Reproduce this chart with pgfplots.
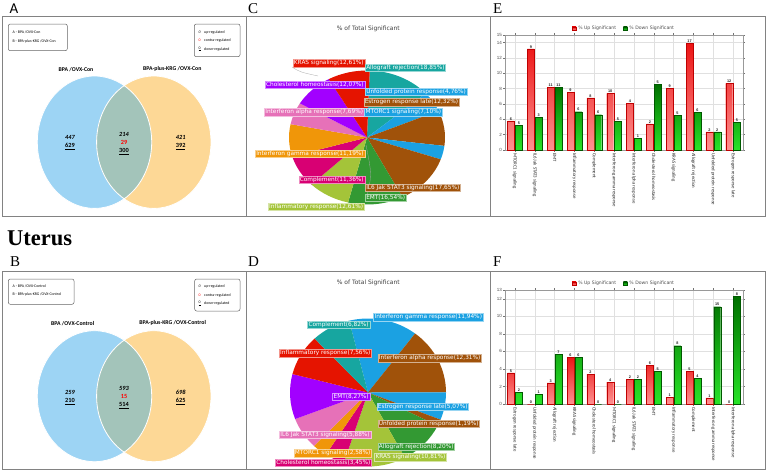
\documentclass[border=0pt]{standalone}
\usepackage{fontspec}
\setmainfont{Liberation Serif}
\newfontfamily\carlito{Carlito}
\newfontfamily\dejavu{DejaVu Sans}
\newfontfamily\libsans{Liberation Sans}
\usepackage{pgfplots}
\usepackage{pgfplotstable}
\pgfplotsset{compat=1.18}

\definecolor{pTeal}{RGB}{23,166,160}
\definecolor{pBlue}{RGB}{27,161,226}
\definecolor{pBrown}{RGB}{160,82,10}
\definecolor{pGreen}{RGB}{51,153,51}
\definecolor{pLime}{RGB}{164,196,57}
\definecolor{pMagenta}{RGB}{216,0,115}
\definecolor{pOrange}{RGB}{240,150,9}
\definecolor{pPink}{RGB}{230,113,184}
\definecolor{pPurple}{RGB}{162,0,255}
\definecolor{pRed}{RGB}{229,20,0}
\definecolor{vBlue}{RGB}{157,212,244}
\definecolor{vOrange}{RGB}{253,216,150}
\definecolor{vMid}{RGB}{163,196,186}
\definecolor{frameGray}{RGB}{130,130,130}
\definecolor{barRedTop}{RGB}{236,20,20}
\definecolor{barRedBot}{RGB}{255,145,145}
\definecolor{barGrnTop}{RGB}{0,112,0}
\definecolor{barGrnBot}{RGB}{40,228,40}

% pie slice values, clockwise
\pgfplotstableread{
value color
18.85 pTeal
7.10  pBlue
12.32 pBrown
4.76  pBlue
17.65 pBrown
16.54 pGreen
12.61 pLime
11.36 pMagenta
11.19 pOrange
7.69  pPink
12.07 pPurple
12.61 pRed
}\pieC
\pgfplotstableread{
value color
11.94 pBlue
12.31 pBrown
5.07  pBlue
1.19  pBrown
8.20  pGreen
10.81 pLime
3.45  pMagenta
2.58  pOrange
5.88  pPink
8.27  pPurple
7.56  pRed
6.82  pTeal
}\pieD

% #1 table, #2 cx, #3 cy, #4 rx, #5 ry, #6 start angle (clockwise from top)
\newcommand{\drawpie}[6]{%
  \pgfplotstablegetrowsof{#1}\pgfmathtruncatemacro\pienrows{\pgfplotsretval-1}%
  \gdef\pietotal{0}%
  \foreach \i in {0,...,\pienrows}{%
    \pgfplotstablegetelem{\i}{value}\of{#1}%
    \pgfmathsetmacro\pietmp{\pietotal+\pgfplotsretval}\xdef\pietotal{\pietmp}}%
  \gdef\piecum{0}%
  \foreach \i in {0,...,\pienrows}{%
    \pgfplotstablegetelem{\i}{value}\of{#1}\let\pieval\pgfplotsretval
    \pgfplotstablegetelem{\i}{color}\of{#1}\let\piecol\pgfplotsretval
    \pgfmathsetmacro\piea{90-(#6)-\piecum/\pietotal*360}%
    \pgfmathsetmacro\pieb{90-(#6)-(\piecum+\pieval)/\pietotal*360}%
    \fill[\piecol] (axis cs:#2,#3) -- ++(\piea:#4pt and #5pt)
      arc[start angle=\piea, end angle=\pieb, x radius=#4pt, y radius=#5pt] -- cycle;
    \pgfmathsetmacro\pietmp{\piecum+\pieval}\xdef\piecum{\pietmp}}%
}

\tikzset{
  pielab/.style={font=\dejavu\fontsize{5.8}{6}\selectfont, text=white, inner xsep=1pt, inner ysep=0.9pt, line width=0.5pt},
  frame/.style={draw=frameGray, line width=1pt},
  vlab/.style={font=\carlito\fontsize{3.9}{4.2}\selectfont, inner sep=0pt, anchor=west},
  vnum/.style={font=\carlito\bfseries\fontsize{6.3}{6.5}\selectfont, inner sep=0pt},
  vtitle/.style={font=\carlito\bfseries\fontsize{5.8}{6}\selectfont, inner sep=0pt},
  panel/.style={font=\fontsize{15}{15}\selectfont, inner sep=0pt, anchor=base west},
  leader/.style={draw=black!35, line width=0.3pt},
}
\newcommand{\plabR}[4]{\node[pielab, fill=#3, draw=#3!45!white, anchor=west] at (axis cs:#1,#2) {#4};}
\newcommand{\plabL}[4]{\node[pielab, fill=#3, draw=#3!45!white, anchor=east] at (axis cs:#1,#2) {#4};}

\pgfplotsset{barchart/.style={
  scale only axis, width=238pt,
  xmin=-0.5, xmax=11.5, ymin=0,
  ybar=0.8pt, bar width=7pt,
  xtick={0,...,11},
  x tick label style={rotate=-90, anchor=west, font=\carlito\fontsize{4.8}{5}\selectfont, text=black!85, inner sep=1pt},
  y tick label style={font=\libsans\fontsize{4.5}{5}\selectfont, text=black!70, inner sep=1pt},
  /pgf/number format/assume math mode=true,
  grid=major, grid style={draw=black!12, line width=0.4pt},
  axis line style={draw=black!40, line width=0.5pt},
  tick style={draw=black!55, line width=0.4pt},
  tick align=outside, major tick length=2pt,
  point meta=explicit symbolic,
  nodes near coords,
  nodes near coords style={font=\libsans\bfseries\fontsize{3.8}{4}\selectfont, text=black!85, inner sep=0.6pt, anchor=south},
  legend style={at={(0.5,1.005)}, anchor=south, draw=none, fill=none, legend columns=2,
    font=\dejavu\fontsize{4.6}{5}\selectfont, text=black!70,
    /tikz/every even column/.append style={column sep=5pt}, inner sep=1pt},
  legend image code/.code={\fill[##1] (0pt,-1.8pt) rectangle (4pt,1.8pt);},
  upbar/.style={draw=red!75!black, line width=0.3pt, top color=barRedTop, bottom color=barRedBot},
  downbar/.style={draw=green!35!black, line width=0.3pt, top color=barGrnTop, bottom color=barGrnBot},
}}

\begin{document}
\begin{tikzpicture}
\useasboundingbox (0,0) rectangle (767pt,472pt);
\begin{axis}[at={(0pt,0pt)}, anchor=south west, scale only axis, width=767pt, height=472pt,
  xmin=0, xmax=767, ymin=0, ymax=472, y dir=reverse, hide axis, clip=false]
% frames
\draw[frame] (axis cs:2,16) rectangle (axis cs:765,216);
\draw[frame] (axis cs:246,16) -- (axis cs:246,216);
\draw[frame] (axis cs:490,16) -- (axis cs:490,216);
\draw[frame] (axis cs:2,271) rectangle (axis cs:765,469.5);
\draw[frame] (axis cs:246,271) -- (axis cs:246,469.5);
\draw[frame] (axis cs:490,271) -- (axis cs:490,469.5);
% panel letters
\node[panel, font=\carlito\fontsize{15}{15}\selectfont] at (axis cs:9.5,13.5) {A};
\node[panel] at (axis cs:248,13.5) {C};
\node[panel] at (axis cs:493,13.5) {E};
\node[panel] at (axis cs:10,266.5) {B};
\node[panel] at (axis cs:248,266.5) {D};
\node[panel] at (axis cs:493,266.5) {F};
\node[inner sep=0pt, anchor=base west, font=\bfseries\fontsize{22.5}{22.5}\selectfont] at (axis cs:7,245) {Uterus};

% ---------- Venn shapes ----------
\pgfplotsextra{
  \fill[vBlue] (axis cs:94.5,142.2) ellipse[x radius=57.2pt, y radius=66.2pt];
  \fill[vOrange] (axis cs:153.8,142.2) ellipse[x radius=57.2pt, y radius=66.2pt];
  \begin{scope}
    \clip (axis cs:94.5,142.2) ellipse[x radius=57.2pt, y radius=66.2pt];
    \fill[vMid] (axis cs:153.8,142.2) ellipse[x radius=57.2pt, y radius=66.2pt];
  \end{scope}
  \draw[white, line width=0.8pt] (axis cs:94.5,142.2) ellipse[x radius=57.2pt, y radius=66.2pt];
  \draw[white, line width=0.8pt] (axis cs:153.8,142.2) ellipse[x radius=57.2pt, y radius=66.2pt];
  \fill[vBlue] (axis cs:94.5,396.2) ellipse[x radius=57.2pt, y radius=65.5pt];
  \fill[vOrange] (axis cs:153.8,396.2) ellipse[x radius=57.2pt, y radius=65.5pt];
  \begin{scope}
    \clip (axis cs:94.5,396.2) ellipse[x radius=57.2pt, y radius=65.5pt];
    \fill[vMid] (axis cs:153.8,396.2) ellipse[x radius=57.2pt, y radius=65.5pt];
  \end{scope}
  \draw[white, line width=0.8pt] (axis cs:94.5,396.2) ellipse[x radius=57.2pt, y radius=65.5pt];
  \draw[white, line width=0.8pt] (axis cs:153.8,396.2) ellipse[x radius=57.2pt, y radius=65.5pt];
}
\draw[black!60, rounded corners=2pt, line width=0.5pt] (axis cs:8.3,24) rectangle (axis cs:67.3,50.7);
\node[vlab] at (axis cs:12.5,32.3) {A - BPA /OVX-Con};
\node[vlab] at (axis cs:12.5,41) {B - BPA-plus-KRG /OVX-Con};
\draw[black!60, rounded corners=2pt, line width=0.5pt] (axis cs:194.3,24) rectangle (axis cs:240,56.7);
\node[vlab] at (axis cs:198.5,32.3) {\itshape 0};
\node[vlab] at (axis cs:198.5,40.7) {\color{red}0};
\node[vlab] at (axis cs:198.5,49) {\underline{0}};
\node[vlab] at (axis cs:204,32.3) {up-regulated};
\node[vlab] at (axis cs:204,40.7) {contra-regulated};
\node[vlab] at (axis cs:204,49) {down-regulated};
\node[vtitle] at (axis cs:76,69.3) {BPA /OVX-Con};
\node[vtitle] at (axis cs:172.3,69.3) {BPA-plus-KRG /OVX-Con};
\node[vnum] at (axis cs:70,137.5) {\itshape 447};
\node[vnum] at (axis cs:70,146.3) {\underline{629}};
\node[vnum] at (axis cs:124,134.3) {\itshape 214};
\node[vnum, text=red] at (axis cs:124,142.7) {29};
\node[vnum] at (axis cs:124,151.5) {\underline{300}};
\node[vnum] at (axis cs:180.7,137.5) {\itshape 421};
\node[vnum] at (axis cs:180.7,146.3) {\underline{392}};

% ---------- Venn B ----------
\draw[black!60, rounded corners=2pt, line width=0.5pt] (axis cs:8.3,279) rectangle (axis cs:74,304.3);
\node[vlab] at (axis cs:12.5,286.3) {A - BPA /OVX-Control};
\node[vlab] at (axis cs:12.5,294.7) {B - BPA-plus-KRG /OVX-Control};
\draw[black!60, rounded corners=2pt, line width=0.5pt] (axis cs:194.7,279) rectangle (axis cs:240,311);
\node[vlab] at (axis cs:198.5,286.7) {\itshape 0};
\node[vlab] at (axis cs:198.5,295) {\color{red}0};
\node[vlab] at (axis cs:198.5,303.3) {\underline{0}};
\node[vlab] at (axis cs:204,286.7) {up-regulated};
\node[vlab] at (axis cs:204,295) {contra-regulated};
\node[vlab] at (axis cs:204,303.3) {down-regulated};
\node[vtitle] at (axis cs:72.7,323.3) {BPA /OVX-Control};
\node[vtitle] at (axis cs:172.7,323.3) {BPA-plus-KRG /OVX-Control};
\node[vnum] at (axis cs:70,392.5) {\itshape 259};
\node[vnum] at (axis cs:70,401.3) {\underline{210}};
\node[vnum] at (axis cs:124,388.3) {\itshape 593};
\node[vnum, text=red] at (axis cs:124,396.7) {15};
\node[vnum] at (axis cs:124,405.3) {\underline{514}};
\node[vnum] at (axis cs:180.7,392.5) {\itshape 698};
\node[vnum] at (axis cs:180.7,401.3) {\underline{625}};

% ---------- Pie C ----------
\node[font=\dejavu\fontsize{6}{6}\selectfont, text=black!75, inner sep=0pt] at (axis cs:368.3,29.3) {\% of Total Significant};
\pgfplotsextra{\drawpie{\pieC}{367}{137.5}{78}{67}{2}}
\draw[leader] (axis cs:292,67) .. controls (axis cs:300,72) .. (axis cs:318,76);
\draw[leader] (axis cs:366,145) .. controls (axis cs:372,175) .. (axis cs:366,200);
\plabL{365}{63.3}{pRed}{KRAS signaling(12,61\%)}
\plabR{365}{67.7}{pTeal}{Allograft rejection(18,85\%)}
\plabL{365}{84.5}{pPurple}{Cholesterol homeostasis(12,07\%)}
\plabR{365}{92}{pBlue}{Unfolded protein response(4,76\%)}
\plabR{363.5}{102.2}{pBrown}{Estrogen response late(12,32\%)}
\plabL{364.3}{112.2}{pPink}{Interferon alpha response(7,69\%)}
\plabR{364.3}{112.2}{pBlue}{MTORC1 signaling(7,10\%)}
\plabL{365}{153.7}{pOrange}{Interferon gamma response(11,19\%)}
\plabL{365}{179.5}{pMagenta}{Complement(11,36\%)}
\plabR{365}{188}{pBrown}{IL6 Jak STAT3 signaling(17,65\%)}
\plabR{365}{197.8}{pGreen}{EMT(16,54\%)}
\plabL{364.3}{206.7}{pLime}{Inflammatory response(12,61\%)}

% ---------- Pie D ----------
\node[font=\dejavu\fontsize{6}{6}\selectfont, text=black!75, inner sep=0pt] at (axis cs:368.3,283.3) {\% of Total Significant};
\pgfplotsextra{\drawpie{\pieD}{368}{392.5}{78}{74}{-14}}
\plabR{373.3}{317.2}{pBlue}{Interferon gamma response(11,94\%)}
\plabL{370}{324.7}{pTeal}{Complement(6,82\%)}
\plabL{371.7}{353.3}{pRed}{Inflammatory response(7,56\%)}
\plabR{377.7}{358.2}{pBrown}{Interferon alpha response(12,31\%)}
\plabL{370}{396.3}{pPurple}{EMT(8,27\%)}
\plabR{376.7}{407}{pBlue}{Estrogen response late(5,07\%)}
\plabR{377.7}{423.8}{pBrown}{Unfolded protein response(1,19\%)}
\plabL{371}{435}{pPink}{IL6 Jak STAT3 signaling(5,88\%)}
\plabR{377.7}{446.7}{pGreen}{Allograft rejection(8,20\%)}
\plabL{371.7}{453.2}{pOrange}{MTORC1 signaling(2,58\%)}
\plabR{374.3}{457.2}{pLime}{KRAS signaling(10,81\%)}
\plabL{371.7}{462.5}{pMagenta}{Cholesterol homeostasis(3,45\%)}
\end{axis}

% ---------- Bar chart E ----------
\begin{axis}[barchart, at={(505pt,322pt)}, anchor=south west, height=115pt,
  ymax=15, ytick={0,2,4,6,8,10,12,14,15},
  xticklabels={MTORC1 signaling, IL6 Jak STAT3 signaling, EMT, Inflammatory response, Complement, Interferon gamma response, Interferon alpha response, Cholesterol homeostasis, KRAS signaling, Allograft rejection, Unfolded protein response, Estrogen response late}]
\addplot[upbar] coordinates {(0,3.8)[6] (1,13.2)[9] (2,8.2)[11] (3,7.5)[9] (4,6.8)[8] (5,7.4)[10] (6,6.1)[4] (7,3.4)[2] (8,8.05)[9] (9,13.9)[17] (10,2.35)[2] (11,8.7)[12]};
\addplot[downbar] coordinates {(0,3.2)[5] (1,4.3)[3] (2,8.2)[11] (3,5.0)[6] (4,4.6)[6] (5,3.7)[5] (6,1.5)[1] (7,8.6)[5] (8,4.5)[5] (9,4.9)[6] (10,2.35)[2] (11,3.6)[5]};
\legend{\% Up Significant, \% Down Significant}
\end{axis}

% ---------- Bar chart F ----------
\begin{axis}[barchart, at={(505pt,68pt)}, anchor=south west, height=114pt,
  ymax=13, ytick={0,2,4,6,8,10,12,13},
  xticklabels={Estrogen response late, Unfolded protein response, Allograft rejection, KRAS signaling, Cholesterol homeostasis, MTORC1 signaling, IL6 Jak STAT3 signaling, EMT, Inflammatory response, Complement, Interferon gamma response, Interferon alpha response}]
\addplot[upbar] coordinates {(0,3.55)[5] (1,0)[0] (2,2.4)[3] (3,5.35)[6] (4,3.4)[2] (5,2.5)[4] (6,2.85)[2] (7,4.4)[6] (8,0.75)[1] (9,3.75)[5] (10,0.7)[1] (11,0)[0]};
\addplot[downbar] coordinates {(0,1.36)[2] (1,1.1)[1] (2,5.7)[7] (3,5.35)[6] (4,0)[0] (5,0)[0] (6,2.85)[2] (7,3.7)[5] (8,6.65)[8] (9,2.95)[4] (10,11.1)[15] (11,12.3)[8]};
\legend{\% Up Significant, \% Down Significant}
\end{axis}
\end{tikzpicture}
\end{document}
